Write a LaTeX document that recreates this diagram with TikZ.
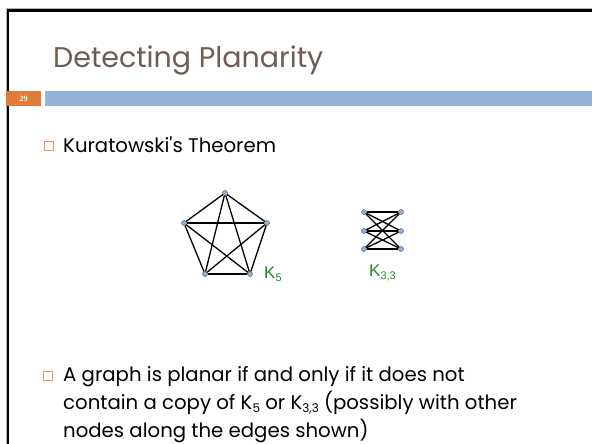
\documentclass[tikz,border=0pt]{standalone}
\usepackage{fontspec}
\setmainfont{Poppins}
\newfontfamily\labelfont{Liberation Sans}
\newfontfamily\numfont{Liberation Serif}
\usetikzlibrary{positioning}
\definecolor{titlebrown}{HTML}{6F5C55}
\definecolor{barblue}{HTML}{95B3D7}
\definecolor{slideorange}{HTML}{E07B39}
\definecolor{bulletorange}{HTML}{E8956A}
\definecolor{labelgreen}{HTML}{1E8C1E}
\definecolor{vertexblue}{HTML}{8EB3D6}
\newcommand{\lowsub}[1]{\raisebox{-0.35ex}{\fontsize{12}{12}\selectfont #1}}
\newcommand{\lablow}[1]{\raisebox{-0.35ex}{\fontsize{11}{11}\selectfont #1}}

\begin{document}
\begin{tikzpicture}[x=1pt,y=-1pt,
  vtx/.style={circle,fill=vertexblue,draw=gray!60!black,line width=0.4pt,inner sep=0pt,minimum size=5pt},
  edge/.style={line width=1.3pt,black},
  klabel/.style={text=labelgreen,font=\labelfont\fontsize{17}{17}\selectfont,anchor=base west,inner sep=0pt},
  bulletbox/.style={draw=bulletorange,line width=0.8pt,minimum size=9pt,inner sep=0pt},
  bodytext/.style={anchor=base west,inner sep=0pt,align=left,font=\fontsize{19.7}{27.8}\selectfont}]
\useasboundingbox[fill=white] (0,0) rectangle (592,444);
% slide frame
\draw[gray!60,line width=1pt] (6,444) -- (6,8.5) -- (592,8.5);
\draw[line width=2.5pt] (7.8,444) -- (7.8,10.5) -- (592,10.5);
% title and bar
\node[anchor=base west,inner sep=0pt,text=titlebrown,font=\fontsize{28.5}{28.5}\selectfont] (title) at (53,67) {Detecting Planarity};
\node[fill=slideorange,minimum width=35pt,minimum height=15pt,inner sep=0pt,anchor=north west,
  text=white,font=\numfont\bfseries\fontsize{8}{8}\selectfont] (pagenum) at (6,91) {29};
\node[fill=barblue,minimum width=547pt,minimum height=15pt,inner sep=0pt,anchor=north west] (bar) at (45,91) {};
% first bullet
\node[bulletbox] (b1) at (48.5,146) {};
\node[bodytext] (kura) at (63,152) {Kuratowski\textquotesingle s Theorem};
% K5
\node[vtx] (p1) at (225,193) {};
\node[vtx] (p2) at (267,223) {};
\node[vtx] (p3) at (250,274) {};
\node[vtx] (p4) at (205,274) {};
\node[vtx] (p5) at (184,223) {};
\foreach \i/\j in {1/2,1/3,1/4,1/5,2/3,2/4,2/5,3/4,3/5,4/5}
  \draw[edge] (p\i) -- (p\j);
\node[klabel] (k5) at (264,278) {K\lablow{5}};
% K33
\foreach \r/\yy in {1/212,2/231,3/249}{
  \node[vtx] (l\r) at (364,\yy) {};
  \node[vtx] (r\r) at (401,\yy) {};
}
\foreach \i in {1,2,3}
  \foreach \j in {1,2,3}
    \draw[edge] (l\i) -- (r\j);
\node[klabel] (k33) at (369,276) {K\lablow{3,3}};
% second bullet
\node[bulletbox] (b2) at (48,375.5) {};
\node[bodytext] (claim) at (63,437) {A graph is planar if and only if it does not\\
contain a copy of K\lowsub{5} or K\lowsub{3,3} (possibly with other\\
nodes along the edges shown)};
\end{tikzpicture}
\end{document}
